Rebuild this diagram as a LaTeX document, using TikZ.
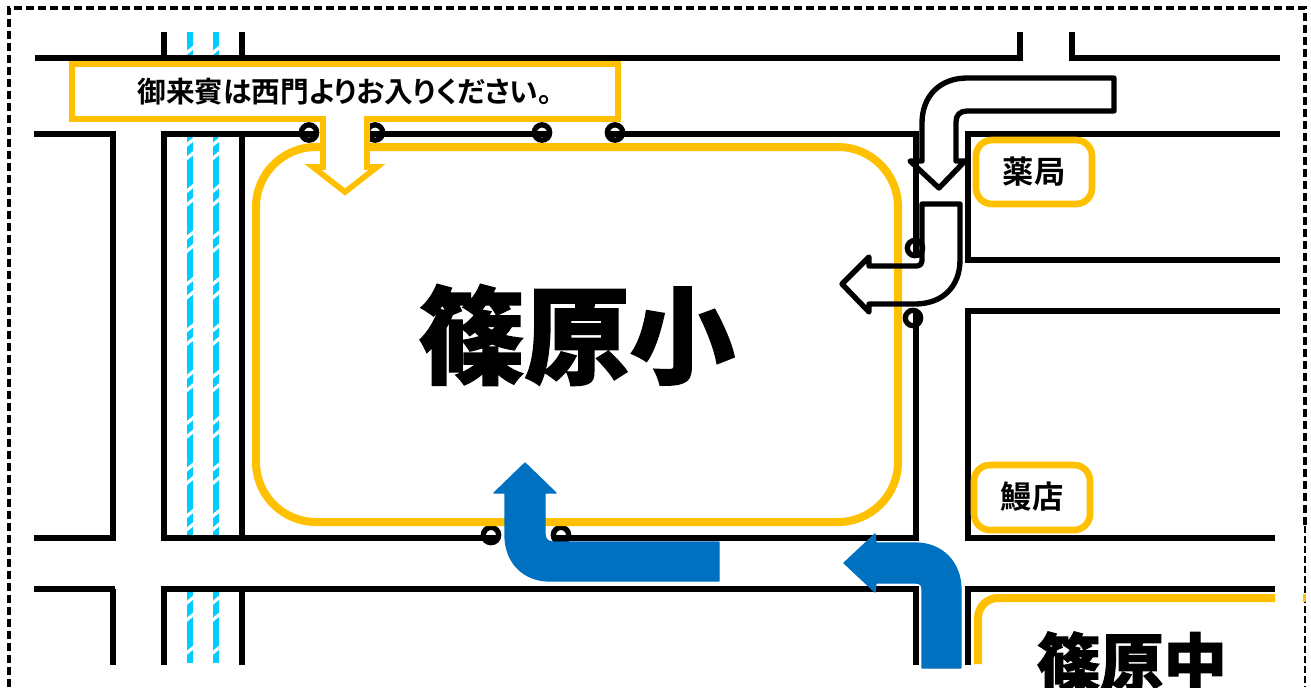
\documentclass[tikz,border=0pt]{standalone}
\usepackage{fontspec}
\setmainfont{Noto Sans CJK JP}[BoldFont={* Bold}]
\newfontfamily\heavy{Noto Sans CJK JP Black}[FakeBold=1.5]
\newfontfamily\prop{Noto Sans CJK JP Bold}[RawFeature=+palt]
\definecolor{gold}{HTML}{FFC000}
\definecolor{arrowblue}{HTML}{0070C0}
\definecolor{rail}{HTML}{00CCFF}
\tikzset{
  road/.style={line width=5pt,black,line cap=butt,line join=miter},
  rail line/.style={line width=5pt,rail},
  gap/.style={line width=2.4pt,white},
  gold line/.style={line width=6pt,gold,line join=round},
  gatemark/.style={circle,draw=black,line width=4pt,minimum size=11.5pt,inner sep=0pt},
  outline arrow/.style={line width=4pt,black,line join=round},
  blue arrow/.style={fill=arrowblue,draw=arrowblue,line width=1pt,line join=round},
  shop/.style={rounded corners=12pt,draw=gold,fill=white,line width=5pt},
  shoptext/.style={font=\bfseries\fontsize{23.5pt}{26pt}\selectfont,inner sep=0pt},
}
\begin{document}
\begin{tikzpicture}[x=0.75pt,y=-0.75pt]
\useasboundingbox (0,0) rectangle (1311,687);
% outer frame
\draw[line width=2.4pt,dash pattern=on 6pt off 3pt] (9,687) -- (9,8) -- (1305,8) -- (1305,526);
\draw[line width=0.8pt,dash pattern=on 5pt off 2.5pt] (1305,526) -- (1305,687);
% railway
\foreach \x in {190,216}{
  \foreach \a/\b in {32/55,137/535,591/663}
    \draw[rail line] (\x,\a) -- (\x,\b);
  \foreach \y in {50,142,155.5,188.4,201.9,234.8,248.3,281.2,294.7,327.6,341.1,374,387.5,420.4,433.9,466.8,480.3,513.2,526.7,600,617,650}
    \draw[gap] (\x-4.5,\y+4) -- (\x+4.5,\y-3.5);
}
% roads
\draw[road] (35,58) -- (1020,58);
\draw[road] (1020,32) -- (1020,61);
\draw[road] (1072,32) -- (1072,58) -- (1280,58);
\draw[road] (164,32) -- (164,58);
\draw[road] (242,32) -- (242,58);
\draw[road] (34,134) -- (113,134) -- (113,538) -- (34,538);
\draw[road] (34,589) -- (115,589);
\draw[road] (113,589) -- (113,665);
\draw[road] (161,134) -- (316,134);
\draw[road] (368,134) -- (550,134);
\draw[road] (607,134) -- (919,134);
\draw[road] (164,134) -- (164,538);
\draw[road] (242,134) -- (242,538);
\draw[road] (916,134) -- (916,258);
\draw[road] (916,312) -- (916,541);
\draw[road] (161,538) -- (499,538);
\draw[road] (553,538) -- (919,538);
\draw[road] (164,665) -- (164,589) -- (916,589) -- (916,665);
\draw[road] (242,589) -- (242,665);
\draw[road] (1280,134) -- (968,134) -- (968,260) -- (1280,260);
\draw[road] (1280,311) -- (968,311) -- (968,538) -- (1275,538);
\draw[road] (1275,589) -- (968,589) -- (968,665);
% gate marks
\node[gatemark] (ga) at (309,132.5) {};
\node[gatemark] (gb) at (375,132.5) {};
\node[gatemark] (gc) at (542,132.5) {};
\node[gatemark] (gd) at (615,132.5) {};
\node[gatemark] (ge) at (491,535) {};
\node[gatemark] (gf) at (561,535) {};
\node[gatemark] (gg) at (915,248) {};
\node[gatemark] (gh) at (913,318) {};
% schools
\draw[gold line,rounded corners=45pt] (256,147) rectangle (898,522);
\draw[gold line,rounded corners=15pt] (978,664) -- (978,598) -- (1275,598);
\draw[gold line] (1303,598) -- (1306,598);
\node[font=\heavy\fontsize{79pt}{80pt}\selectfont,inner sep=0pt] (sho) at (577,335) {篠原小};
\node[font=\heavy\fontsize{47.5pt}{50pt}\selectfont,inner sep=0pt] (chu) at (1132,662) {篠原中};
% callout
\draw[gold line,line width=4.3pt,fill=white,line join=miter]
  (72,64) -- (618,64) -- (618,119) -- (367,119) -- (367,167) -- (377,167) -- (345,192)
  -- (313,167) -- (323,167) -- (323,119) -- (72,119) -- cycle;
\node[font=\prop\fontsize{21.5pt}{24pt}\selectfont,inner sep=0pt] (notice) at (345,92) {御来賓は西門よりお入りください。};
% shops
\draw[shop] (976,140) rectangle (1092,204);
\node[shoptext] (drug) at (1034,172) {薬局};
\draw[shop] (974,465) rectangle (1090,530);
\node[shoptext] (eel) at (1032,497) {鰻店};
% outline arrows
\draw[outline arrow]
  (1114,78) -- (967,78) .. controls (940,78) and (922,96) .. (922,123) -- (922,161) -- (910,161)
  -- (939,188) -- (965,161) -- (956,161) -- (956,122) .. controls (956,115) and (960,111) .. (967,111)
  -- (1114,111) -- cycle;
\draw[outline arrow]
  (922,204) -- (960,204) -- (960,260) .. controls (960,287) and (942,304) .. (915,304) -- (869,304)
  -- (869,312) -- (842,284) -- (869,257) -- (869,266) -- (917,266) .. controls (920,266) and (922,264) .. (922,261) -- cycle;
% blue arrows
\draw[blue arrow]
  (719,542) -- (553,542) .. controls (548,542) and (545,539) .. (545,534) -- (545,493) -- (556,493)
  -- (525,463) -- (494,493) -- (505,493) -- (505,535) .. controls (505,562) and (523,581) .. (550,581)
  -- (719,581) -- cycle;
\draw[blue arrow]
  (922,668) -- (922,589) .. controls (922,585) and (920,583) .. (916,583) -- (876,583) -- (875,592)
  -- (844,563) -- (875,534) -- (876,543) -- (915,543) .. controls (942,543) and (961,562) .. (961,590)
  -- (961,668) -- cycle;
\end{tikzpicture}
\end{document}
